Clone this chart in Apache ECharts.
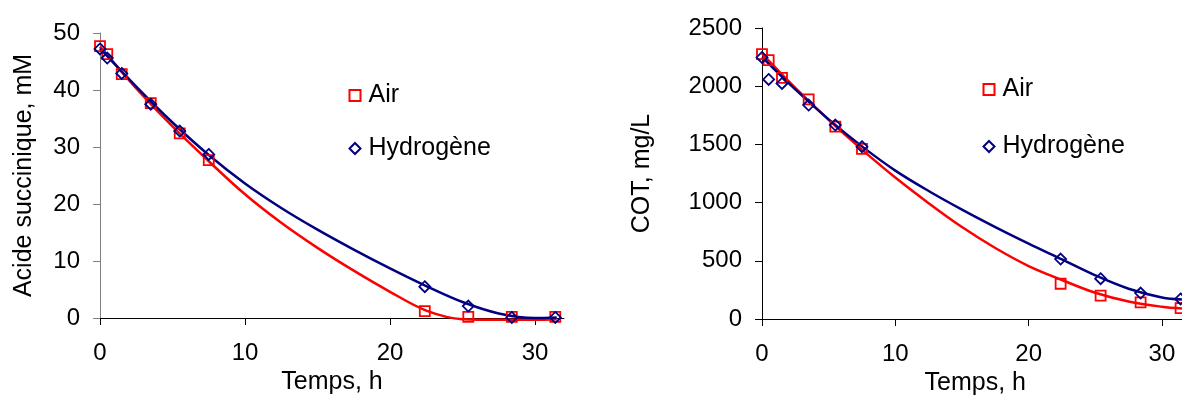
<!DOCTYPE html>
<html>
<head>
<meta charset="utf-8">
<script src="https://cdn.jsdelivr.net/npm/echarts@6/dist/echarts.min.js"></script>
<style>
  html, body { margin: 0; padding: 0; background: #fff; }
  #chart { width: 1182px; height: 401px; }
</style>
</head>
<body>
<div id="chart"></div>
<script>
// sampling times (h)
const time = [0, 0.5, 1.5, 3.5, 5.5, 7.5, 22.4, 25.4, 28.4, 31.4];
// acide succinique, mM
const acideAir = [47.7, 46.3, 42.8, 37.7, 32.4, 27.7, 1.2, 0.2, 0.2, 0.2];
const acideH2 = [47.2, 45.6, 42.9, 37.5, 32.8, 28.7, 5.5, 2.1, 0.1, 0.1];
// COT, mg/L
const cotAir = [2275, 2224, 2072, 1887, 1652, 1461, 303, 200, 143, 94];
const cotH2 = [2247, 2058, 2024, 1838, 1666, 1480, 515, 346, 223, 172];

// fitted curves
const fitTime = [0, 2.5, 5, 7.5, 10, 12.5, 15, 17.5, 20, 22.5, 25, 27.5, 30, 31.5];
const acideAirFit = [47.6, 40.3, 33.6, 27.5, 21.7, 16.7, 12.3, 8.3, 4.6, 1.3, -0.2, -0.3, -0.3, -0.2];
const acideH2Fit = [47.3, 40.6, 34.3, 28.6, 23.6, 19.3, 15.5, 12.0, 8.7, 5.6, 2.8, 0.8, 0.0, 0.1];
const cotAirFit = [2280, 1985, 1710, 1455, 1215, 995, 790, 610, 455, 335, 225, 150, 105, 90];
const cotH2Fit = [2250, 1972, 1715, 1483, 1275, 1100, 940, 790, 648, 512, 375, 260, 185, 168];

const xTicks = [0, 10, 20, 30];

const RED = '#FF0000';
const NAVY = '#000080';
const FONT = 'Arial, "Liberation Sans", sans-serif';
const FS = 25;   // names, legend
const TFS = 24;  // tick labels

const zip = (xs, ys) => xs.map((x, i) => [x, ys[i]]);

function xAxis(gridIndex) {
  return {
    gridIndex,
    type: 'value',
    min: 0,
    max: 32,
    name: 'Temps, h',
    nameLocation: 'middle',
    nameGap: 44,
    nameTextStyle: { color: '#000', fontSize: FS, fontFamily: FONT },
    axisLine: { onZero: false, lineStyle: { color: '#000', width: 1 } },
    axisTick: { show: true, inside: false, length: 7, customValues: xTicks, lineStyle: { color: '#000' } },
    axisLabel: { customValues: xTicks, margin: 23, color: '#000', fontSize: TFS, fontFamily: FONT },
    splitLine: { show: false }
  };
}

function yAxis(gridIndex, name, max, interval, nameGap, color) {
  return {
    gridIndex,
    type: 'value',
    min: 0,
    max,
    interval,
    name,
    nameLocation: 'middle',
    nameGap,
    nameTextStyle: { color: '#000', fontSize: FS, fontFamily: FONT },
    axisLine: { show: true, lineStyle: { color, width: 1 } },
    axisTick: { show: true, inside: false, length: 7, lineStyle: { color } },
    axisLabel: { margin: 20, color: '#000', fontSize: TFS, fontFamily: FONT, formatter: v => String(v) },
    splitLine: { show: false }
  };
}

function points(name, idx, data, symbol, color) {
  return {
    name,
    type: 'scatter',
    xAxisIndex: idx,
    yAxisIndex: idx,
    data,
    symbol,
    symbolSize: symbol === 'rect' ? 10 : 11,
    itemStyle: { color: 'rgba(255,255,255,0)', borderColor: color, borderWidth: 1.8, opacity: 1 },
    z: 3
  };
}

function curve(name, idx, data, color) {
  return {
    name,
    type: 'line',
    xAxisIndex: idx,
    yAxisIndex: idx,
    data,
    smooth: 0.35,
    showSymbol: false,
    lineStyle: { color, width: 2.5 },
    clip: false,
    z: 2
  };
}

function legend(left, top, gap) {
  return {
    orient: 'vertical',
    left,
    top,
    itemWidth: 11,
    itemHeight: 11,
    itemGap: gap,
    selectedMode: false,
    textStyle: { color: '#000', fontSize: FS, fontFamily: FONT, lineHeight: 25, padding: [0, 0, 0, 3] },
    data: [
      { name: 'Air', icon: 'rect', itemStyle: { color: '#fff', borderColor: RED, borderWidth: 2 } },
      { name: 'Hydrogène', icon: 'diamond', itemStyle: { color: '#fff', borderColor: NAVY, borderWidth: 2 } }
    ]
  };
}

const chart = echarts.init(document.getElementById('chart'), null, { renderer: 'canvas' });
chart.setOption({
  backgroundColor: '#fff',
  animation: false,
  grid: [
    { left: 100, top: 33, width: 464, bottom: 83, containLabel: false, outerBoundsMode: 'none' },
    { left: 762, top: 28, width: 426.6, bottom: 82, containLabel: false, outerBoundsMode: 'none' }
  ],
  legend: [legend(343.5, 78, 28), legend(977.5, 72, 32)],
  xAxis: [xAxis(0), xAxis(1)],
  yAxis: [
    yAxis(0, 'Acide succinique, mM', 50, 10, 63, '#808080'),
    yAxis(1, 'COT, mg/L', 2500, 500, 107, '#000')
  ],
  series: [
    curve('Air fit L', 0, zip(fitTime, acideAirFit), RED),
    curve('Hydrogène fit L', 0, zip(fitTime, acideH2Fit), NAVY),
    points('Air', 0, zip(time, acideAir), 'rect', RED),
    points('Hydrogène', 0, zip(time, acideH2), 'diamond', NAVY),
    curve('Air fit R', 1, zip(fitTime, cotAirFit), RED),
    curve('Hydrogène fit R', 1, zip(fitTime, cotH2Fit), NAVY),
    points('Air', 1, zip(time, cotAir), 'rect', RED),
    points('Hydrogène', 1, zip(time, cotH2), 'diamond', NAVY)
  ]
});
</script>
</body>
</html>
